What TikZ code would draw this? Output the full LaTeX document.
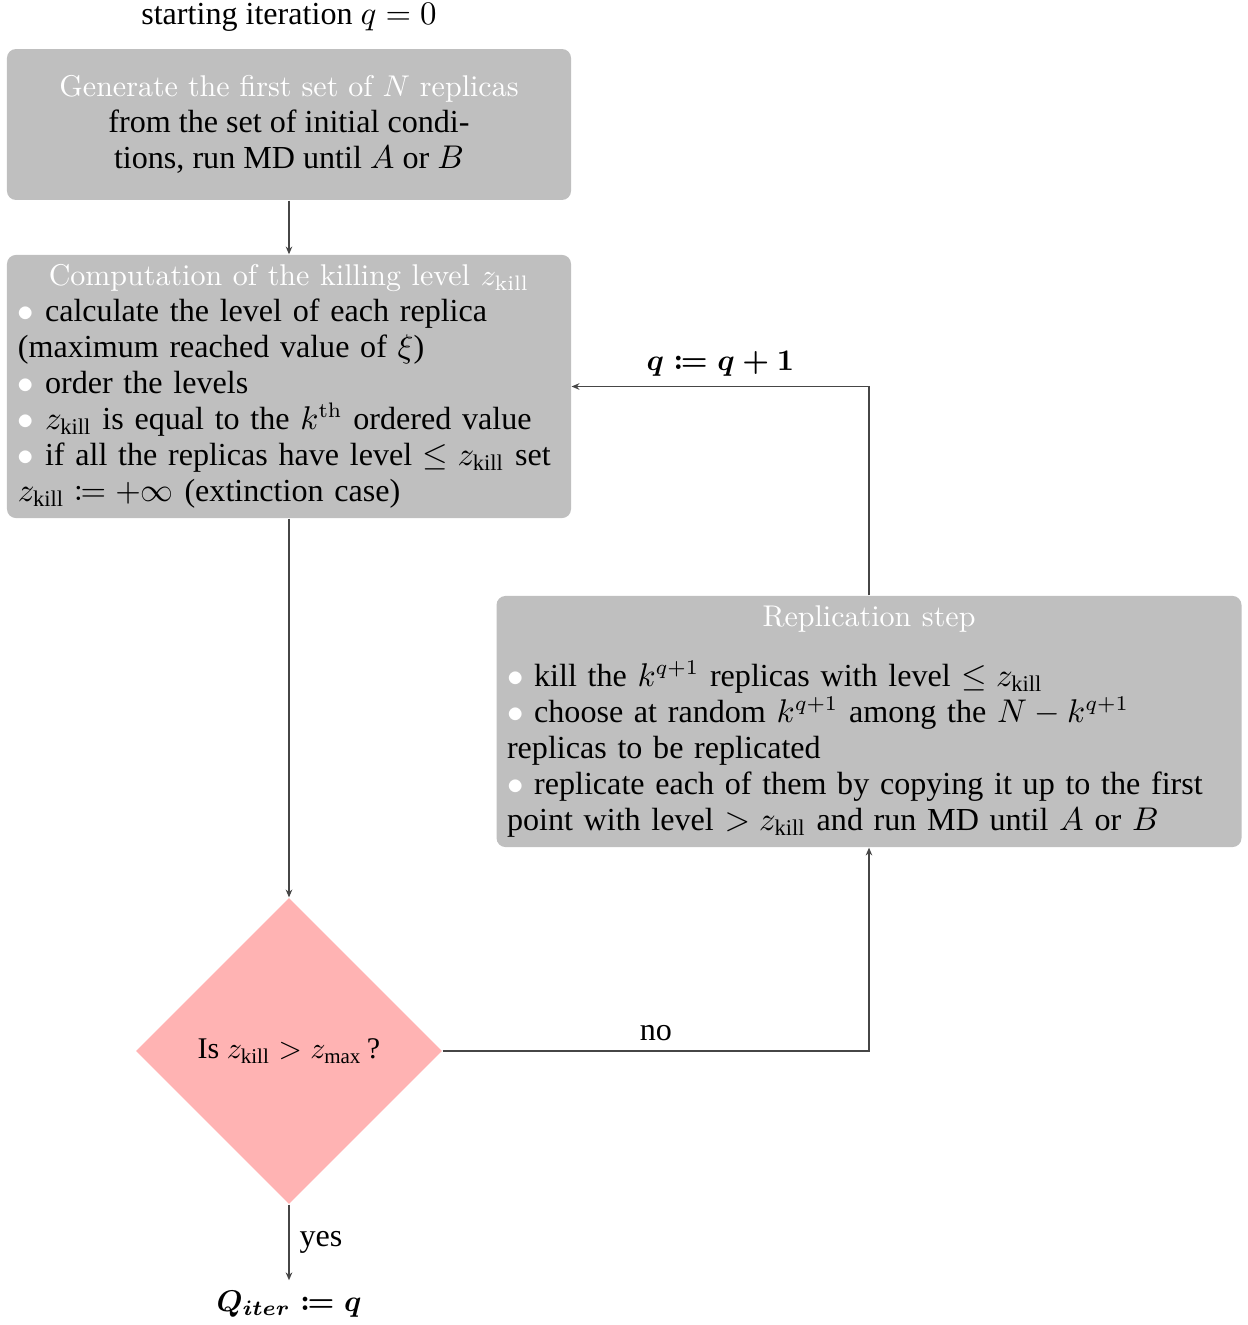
\documentclass[tikz,border=0pt]{standalone}
\usepackage{amsmath,amssymb}
\usepackage{mathtools}
\usepackage[no-math]{fontspec}
\setmainfont{Liberation Serif}
\newfontfamily\titlefont{Latin Modern Roman}
\usepackage{tikz}
\usetikzlibrary{arrows.meta}
\usetikzlibrary{shapes.geometric}
\definecolor{boxgray}{RGB}{191,191,191}
\definecolor{diapink}{RGB}{255,179,179}
\definecolor{linegray}{RGB}{70,70,70}
\newcommand{\wb}{\textcolor{white}{$\bullet$}}
\newcommand{\zk}{z_{\text{kill}}}
\newcommand{\boxtitle}[1]{\textcolor{white}{\titlefont\fontsize{10}{12}\selectfont #1}}

\begin{document}
\begin{tikzpicture}[x=0.3333pt, y=-0.3333pt, font=\fontsize{10.7}{12}\selectfont,
        stepbox/.style={fill=boxgray, rounded corners=3pt, inner xsep=3.5pt, inner ysep=1pt},
        testbox/.style={diamond, fill=diapink, aspect=1, inner sep=0pt,
                        minimum width=102pt, minimum height=102pt, font=\fontsize{10}{12}\selectfont},
        link/.style={draw=linegray, line width=0.4pt, -{Stealth[length=2.6pt, width=2.2pt]}}]
        \useasboundingbox (0,0) rectangle (1247,1325);

        \node (startlab) at (289,17) {starting iteration $q = 0$};

        \node (genbox) [stepbox, align=center, minimum width=188pt, minimum height=50.3pt] at (289,124.5)
            {\boxtitle{Generate the first set of $N$ replicas}\\
             from the set of initial condi-\\
             tions, run MD until $A$ or $B$};

        \node (killbox) [stepbox, text width=180.7pt, align=left, minimum width=188pt, minimum height=87.7pt] at (289,386.5)
            {\makebox[\linewidth]{\boxtitle{Computation of the killing level $\zk$}}\\
             \wb\ calculate the level of each replica\\
             (maximum reached value of $\xi$)\\
             \wb\ order the levels\\
             \wb\ $\zk$ is equal to the $k^{\rm th}$ ordered value\\
             \wb\ if all the replicas have level $\leq \zk$ set\\
             $\zk \coloneqq +\infty$ (extinction case)};

        \node (testdia) [testbox] at (289,1051) {Is $\zk > z_{\text{max}}$\,?};

        \node (replbox) [stepbox, text width=241.3pt, align=left, minimum width=248pt, minimum height=83.7pt] at (869,721.5)
            {\makebox[\linewidth]{\boxtitle{Replication step}}\\[8pt]
             \wb\ kill the $k^{q+1}$ replicas with level $\leq \zk$\\
             \wb\ choose at random $k^{q+1}$ among the $N-k^{q+1}$\\
             replicas to be replicated\\
             \wb\ replicate each of them by copying it up to the first\\
             point with level $> \zk$ and run MD until $A$ or $B$};

        \node (endlab) [font=\fontsize{10}{12}\selectfont] at (289,1304) {$\boldsymbol{Q_{iter} \coloneqq q}$};

        \draw [link] (genbox) -- (killbox);
        \draw [link] (killbox) -- (testdia);
        \draw [link] (testdia.east) -| (replbox.south) node [pos=0.25, above] {no};
        \draw [link] (replbox.north) |- (killbox.east)
            node [pos=0.75, above=0pt, font=\fontsize{10}{12}\selectfont] {$\boldsymbol{q \coloneqq q+1}$};
        \draw [link] (testdia.south) -- (endlab.north) node [midway, right] {yes};
      \end{tikzpicture}
\end{document}
